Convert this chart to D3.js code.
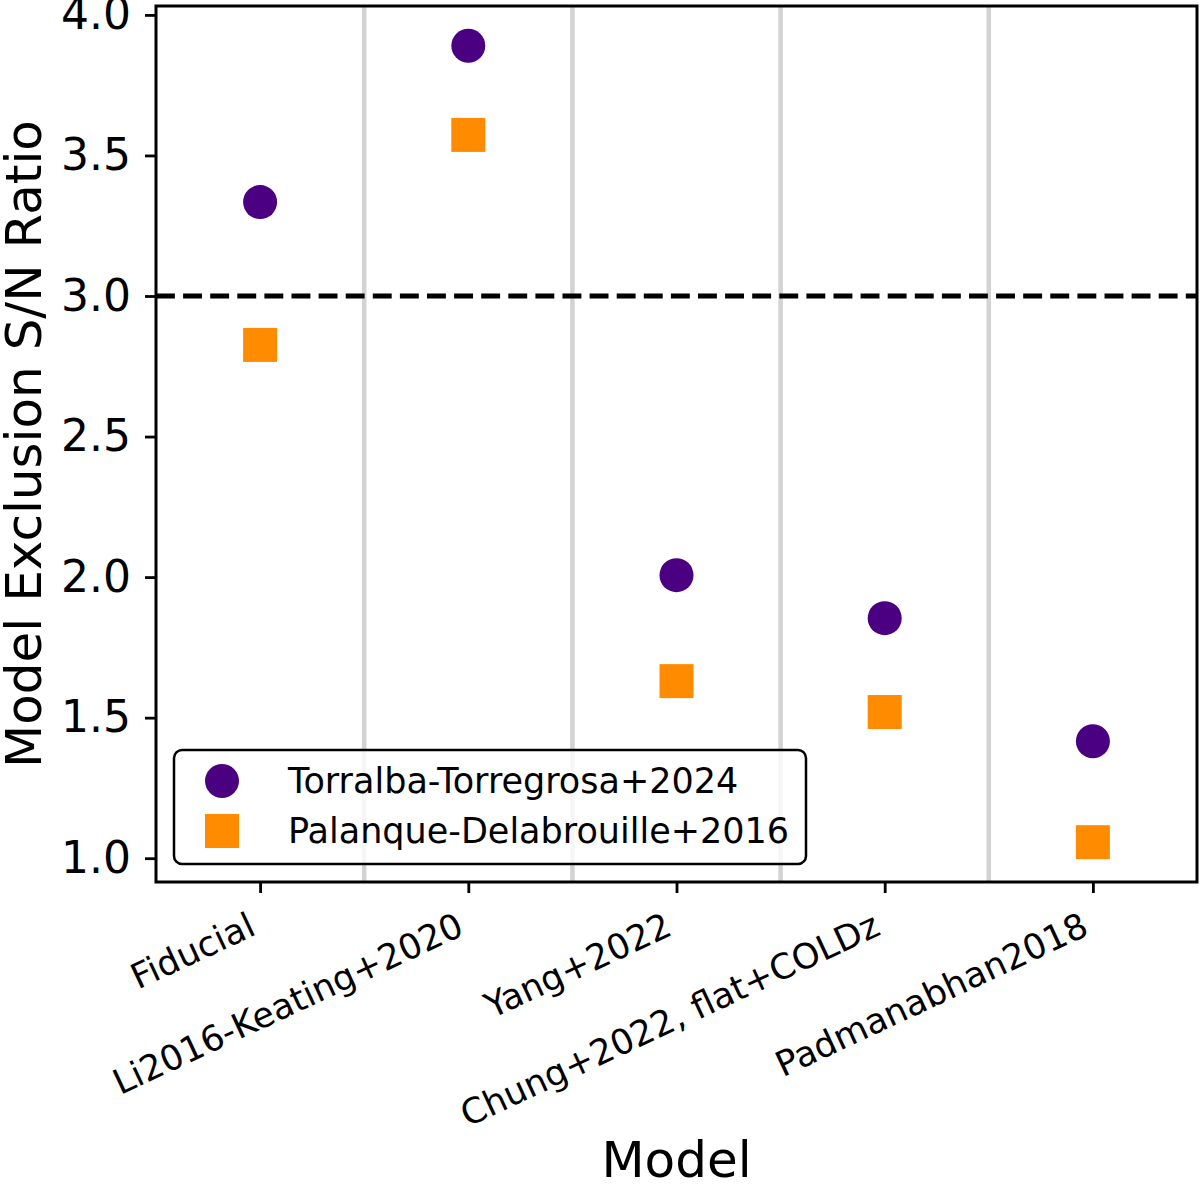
<!DOCTYPE html>
<html>
<head>
<meta charset="utf-8">
<script src="https://cdn.jsdelivr.net/npm/d3@7"></script>
<style>
  html, body { margin: 0; padding: 0; background: #fff; }
  svg { display: block; font-family: "DejaVu Sans", sans-serif; }
</style>
</head>
<body>
<svg id="chart" width="1200" height="1186"></svg>
<script>
// ---- data ----
const categories = ["Fiducial", "Li2016-Keating+2020", "Yang+2022", "Chung+2022, flat+COLDz", "Padmanabhan2018"];
const torralba = [3.334, 3.890, 2.007, 1.854, 1.416];
const palanque = [2.826, 3.573, 1.630, 1.520, 1.057];
const seriesNames = ["Torralba-Torregrosa+2024", "Palanque-Delabrouille+2016"];
const yTicks = [1.0, 1.5, 2.0, 2.5, 3.0, 3.5, 4.0];
const threshold = 3.0;

// ---- layout ----
const L = 156, R = 1197, T = 6, B = 882;
const svg = d3.select("#chart");

const x = d3.scaleLinear().domain([-0.5, categories.length - 0.5]).range([L, R]);
const all = torralba.concat(palanque);
const lo = d3.min(all), hi = d3.max(all), m = (hi - lo) * 0.05;
const y = d3.scaleLinear().domain([lo - m, hi + m]).range([B, T]);

// vertical separators
const seps = d3.range(categories.length - 1).map(i => i + 0.5);
svg.append("g").selectAll("line").data(seps).join("line")
  .attr("x1", d => x(d)).attr("x2", d => x(d))
  .attr("y1", T).attr("y2", B)
  .attr("stroke", "#d3d3d3").attr("stroke-width", 4.5);

// threshold dashed line
svg.append("line")
  .attr("x1", L).attr("x2", R)
  .attr("y1", y(threshold)).attr("y2", y(threshold))
  .attr("stroke", "#000").attr("stroke-width", 5.1)
  .attr("stroke-dasharray", "18.9,8.2");

// markers
const circleColor = "#4b0082", squareColor = "#ff8c00";
const r = 17, s = 34;
svg.append("g").selectAll("circle").data(torralba).join("circle")
  .attr("cx", (d, i) => x(i)).attr("cy", d => y(d)).attr("r", r)
  .attr("fill", circleColor);
svg.append("g").selectAll("rect").data(palanque).join("rect")
  .attr("x", (d, i) => x(i) - s / 2).attr("y", d => y(d) - s / 2)
  .attr("width", s).attr("height", s)
  .attr("fill", squareColor);

// axes
const yAxis = d3.axisLeft(y).tickValues(yTicks).tickFormat(d3.format(".1f")).tickSize(11).tickPadding(14);
const gy = svg.append("g").attr("transform", `translate(${L},0)`).call(yAxis);
gy.select(".domain").remove();
gy.selectAll(".tick line").attr("stroke-width", 2.8);
gy.selectAll(".tick text").attr("font-size", 44).attr("font-family", "DejaVu Sans").attr("fill", "#000");

const xAxis = d3.axisBottom(x).tickValues(d3.range(categories.length)).tickFormat(i => categories[i]).tickSize(11);
const gx = svg.append("g").attr("transform", `translate(0,${B})`).call(xAxis);
gx.select(".domain").remove();
gx.selectAll(".tick line").attr("stroke-width", 2.8);
gx.selectAll(".tick text")
  .attr("font-size", 35).attr("font-family", "DejaVu Sans").attr("fill", "#000")
  .attr("text-anchor", "end").attr("dy", null).attr("y", null)
  .attr("transform", "translate(-3,52) rotate(-25)");

// frame
svg.append("rect").attr("x", L).attr("y", T).attr("width", R - L).attr("height", B - T)
  .attr("fill", "none").attr("stroke", "#000").attr("stroke-width", 3);

// axis labels
svg.append("text").attr("x", (L + R) / 2).attr("y", 1177)
  .attr("text-anchor", "middle").attr("font-size", 50).text("Model");
svg.append("text")
  .attr("transform", `translate(41,${(T + B) / 2}) rotate(-90)`)
  .attr("text-anchor", "middle").attr("font-size", 50).text("Model Exclusion S/N Ratio");

// legend
const lg = svg.append("g");
lg.append("rect").attr("x", 174).attr("y", 750).attr("width", 632).attr("height", 114)
  .attr("rx", 8).attr("fill", "#fff").attr("fill-opacity", 0.8)
  .attr("stroke", "#000").attr("stroke-width", 2.5);
const ly = [781, 831];
lg.append("circle").attr("cx", 222).attr("cy", ly[0]).attr("r", r).attr("fill", circleColor);
lg.append("rect").attr("x", 222 - s / 2).attr("y", ly[1] - s / 2).attr("width", s).attr("height", s).attr("fill", squareColor);
lg.selectAll("text.lt").data(seriesNames).join("text").attr("class", "lt")
  .attr("x", 288).attr("y", (d, i) => ly[i]).attr("dy", "0.35em")
  .attr("font-size", 35).text(d => d);
</script>
</body>
</html>
